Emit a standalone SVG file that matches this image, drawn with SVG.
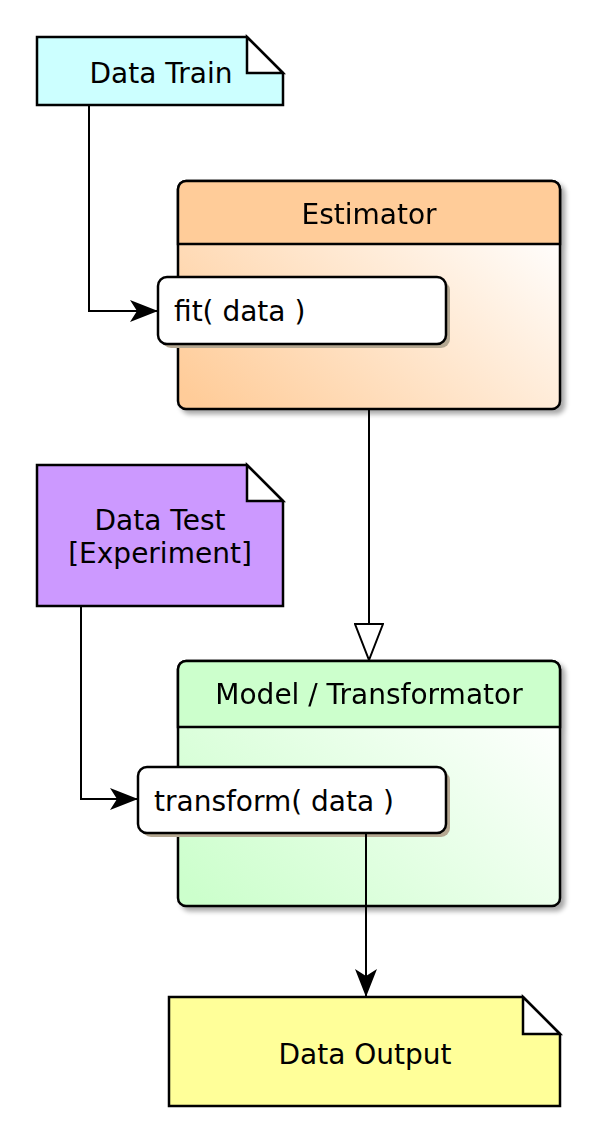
<svg xmlns="http://www.w3.org/2000/svg" width="600" height="1143" viewBox="0 0 600 1143">
<defs>
<style>
text{font-family:"DejaVu Sans","Liberation Sans",sans-serif;font-size:28px;fill:#000}
.c{text-anchor:middle}
.ln{fill:none;stroke:#000;stroke-width:2}
.ol{stroke:#000;stroke-width:2.5}
</style>
<linearGradient id="gO" x1="0" y1="0.9" x2="1" y2="0.2">
<stop offset="0" stop-color="#FFCC99"/><stop offset="1" stop-color="#FFFFFF"/>
</linearGradient>
<linearGradient id="gG" x1="0" y1="0.9" x2="1" y2="0.2">
<stop offset="0" stop-color="#CCFFCC"/><stop offset="1" stop-color="#FFFFFF"/>
</linearGradient>
<filter id="sh" x="-10%" y="-10%" width="130%" height="130%">
<feGaussianBlur in="SourceAlpha" stdDeviation="2.5"/>
<feOffset dx="4" dy="4" result="b"/>
<feComponentTransfer><feFuncA type="linear" slope="0.35"/></feComponentTransfer>
<feMerge><feMergeNode/><feMergeNode in="SourceGraphic"/></feMerge>
</filter>
<marker id="af" viewBox="0 0 28 22" refX="28" refY="11" markerWidth="28" markerHeight="22" markerUnits="userSpaceOnUse" orient="auto">
<path d="M0,0 L28,11 L0,22 L7,11 Z" fill="#000"/>
</marker>
<marker id="ah" viewBox="0 0 38 30" refX="37" refY="15" markerWidth="38" markerHeight="30" markerUnits="userSpaceOnUse" orient="auto">
<path d="M1,1 L37,15 L1,29 Z" fill="#fff" stroke="#000" stroke-width="2"/>
</marker>
</defs>

<g id="estimator" filter="url(#sh)">
<rect x="178" y="181" width="382" height="228" rx="8" fill="url(#gO)" class="ol"/>
<path d="M186,181 H552 A8,8 0 0 1 560,189 V244 H178 V189 A8,8 0 0 1 186,181 Z" fill="#FFCC99" class="ol"/>
<text x="369" y="224" class="c">Estimator</text>
</g>

<g id="model" filter="url(#sh)">
<rect x="178" y="661" width="382" height="245" rx="8" fill="url(#gG)" class="ol"/>
<path d="M186,661 H552 A8,8 0 0 1 560,669 V727 H178 V669 A8,8 0 0 1 186,661 Z" fill="#CCFFCC" class="ol"/>
<text x="369" y="704" class="c">Model / Transformator</text>
</g>

<g id="fit">
<rect x="162" y="281" width="288" height="67" rx="9" fill="#B5A892"/>
<rect x="158" y="277" width="288" height="67" rx="9" fill="#fff" class="ol"/>
<text x="174" y="321">fit( data )</text>
</g>

<g id="transform">
<rect x="142" y="771" width="308" height="66" rx="9" fill="#B5A892"/>
<rect x="138" y="767" width="308" height="66" rx="9" fill="#fff" class="ol"/>
<text x="154" y="811">transform( data )</text>
</g>

<g id="data-train">
<path d="M37,37 H247 L283,73 V105 H37 Z" fill="#CCFFFF" class="ol"/>
<path d="M247,37 V73 H283 Z" fill="#fff" class="ol"/>
<text x="161" y="83" class="c">Data Train</text>
</g>

<g id="data-test">
<path d="M37,465 H247 L283,501 V606 H37 Z" fill="#CC99FF" class="ol"/>
<path d="M247,465 V501 H283 Z" fill="#fff" class="ol"/>
<text x="160" y="530" class="c">Data Test</text>
<text x="160" y="563" class="c">[Experiment]</text>
</g>

<g id="data-output">
<path d="M169,997 H523 L560,1034 V1106 H169 Z" fill="#FFFF99" class="ol"/>
<path d="M523,997 V1034 H560 Z" fill="#fff" class="ol"/>
<text x="365" y="1064" class="c">Data Output</text>
</g>

<g id="connectors">
<path d="M89,105 V311 H158" class="ln" marker-end="url(#af)"/>
<path d="M81,606 V799 H138" class="ln" marker-end="url(#af)"/>
<path d="M369,409 V660" class="ln" marker-end="url(#ah)"/>
<path d="M366,833 V997" class="ln" marker-end="url(#af)"/>
</g>
</svg>
